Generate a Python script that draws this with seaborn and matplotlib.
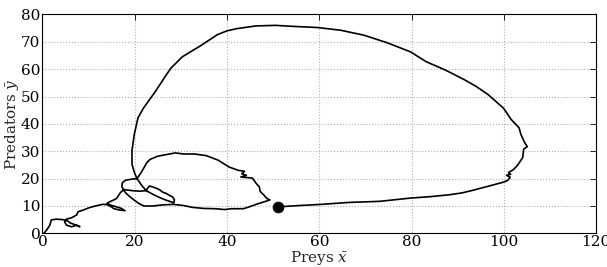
import numpy as np
import pandas as pd
import matplotlib
matplotlib.use("Agg")
import matplotlib.pyplot as plt
import seaborn as sns

# trayectoria (presas x, depredadores y)
preys = [51.1, 55, 60.5, 66.4, 73.1, 79.8, 84, 88.2, 91, 93.2, 96.6, 99.9, 100.8,
         101.4, 100.6, 101.5, 101, 102, 102.9, 104.1, 104.3, 105.1, 104.5, 103.7,
         103.3, 101.6, 99.9, 98.2, 96.6, 94, 91.5, 87.3, 83.2, 79.8, 74.8, 69.7,
         64.7, 59.7, 54.7, 50.5, 46.3, 42.1, 40, 37.9, 34.5, 30.3, 27.8, 26.6, 24.5,
         21.9, 20.7, 19.9, 19.4, 19.4, 19.9, 20.5,
         # pequeno lazo izquierdo y lazo derecho
         19.3, 18, 17.3, 17.2, 17.6, 19.5, 21, 22.4, 22.8, 23.2, 24, 24.8, 25.5, 26,
         26.8, 27.5, 28.2, 28.6, 28.5, 27, 25.5, 24, 22.5, 21.5, 20.5,
         # lazo mediano
         21.3, 22, 22.6, 23.3, 25, 27.5, 28.8, 30.5, 33, 35.5, 38, 40.5, 42.5, 43.8,
         43.2, 44.2, 43, 45.5, 46.3, 47, 47.2, 48, 48.6, 49.3, 48, 46.5, 44.5, 43.5,
         41, 39.5, 37.5, 35, 32.5, 30.5, 28.3, 26, 24, 22, 21, 20, 19, 18.2, 17.5,
         # cola hacia la extincion
         16.8, 16.1, 15.2, 14.5, 14, 14.8, 15.8, 17, 17.9, 16.8, 15.5, 14.8, 14, 13,
         12, 11, 10, 8.8, 7.7, 7.4, 6.3, 5.2, 4.8, 5.2, 6.3, 7.4, 8.1, 7, 6, 5.5,
         4.5, 3, 1.9, 1.6, 1.2, 0.9, 0.5, 0.3]
predators = [9.7, 10.1, 10.6, 11.3, 11.7, 12.9, 13.4, 14.1, 14.8, 15.7, 17.2, 18.7, 19.3,
             20.5, 21.2, 21.6, 22.2, 23.2, 24.7, 27.7, 30.8, 31.7, 33.2, 36.2,
             38.6, 41.6, 45.8, 48.3, 50.7, 53.7, 56.1, 59.7, 62.7, 66.3, 69.6, 72.4,
             74.2, 75.2, 75.6, 76, 75.8, 74.8, 74, 72.6, 68.8, 64.5, 60.3, 57.3, 51.9,
             45.8, 42.2, 36.2, 30.2, 25.3, 22.3, 20,
             19.8, 19.4, 18.5, 17, 16, 15.6, 15.4, 15.6, 16.5, 17.3, 16.9, 16.4, 15.8, 15.1,
             14.6, 13.9, 13.3, 12.3, 11.2, 12, 13, 14.2, 15.6, 17.5, 20,
             22, 24, 25.8, 27, 28.2, 29, 29.4, 29, 29, 28.4, 26.8, 24.2, 23, 22.7,
             21.8, 21.2, 20.6, 20.2, 18.3, 17, 15.3, 14, 12.8, 12.2, 11.5, 10.7, 9.5, 9,
             9, 8.7, 9, 9.1, 9.5, 10.2, 10.6, 10.4, 10, 10, 10.8, 12, 13.3, 14.5, 15.9,
             14.7, 12.8, 12, 11.5, 11, 10.3, 9.8, 9.2, 8.3, 8.5, 9, 9.8, 10.5, 10.6,
             10.2, 9.8, 9.3, 8.5, 7.9, 6.7, 5.7, 5.2, 4.2, 3, 2.4, 3, 2.4, 3.2, 3.8, 4.5,
             5, 5.2, 4.9, 3, 2, 1.2, 0.4, 0]
start_x = [51.1]
start_y = [9.8]

df = pd.DataFrame({'x': preys, 'y': predators})

sns.set_style("whitegrid")
plt.rcParams['font.family'] = ['DejaVu Serif']
plt.rcParams['mathtext.fontset'] = 'dejavuserif'

fig, ax = plt.subplots(figsize=(6.07, 2.67), dpi=100)
fig.subplots_adjust(left=0.07, right=0.982, top=0.946, bottom=0.126)

sns.lineplot(data=df, x='x', y='y', sort=False, estimator=None, color='black',
             linewidth=1.2, ax=ax)
sns.scatterplot(x=start_x, y=start_y, color='black', s=60, edgecolor='black', zorder=5, ax=ax)

ax.set_xlim(0, 120)
ax.set_ylim(0, 80)
ax.set_xticks(range(0, 121, 20))
ax.set_yticks(range(0, 81, 10))
ax.grid(True, linestyle=':', color='#b0b0b0', linewidth=0.8)
for s in ax.spines.values():
    s.set_color('black')
    s.set_linewidth(0.8)
ax.tick_params(direction='in', length=4, width=0.6, top=True, right=True,
               labelsize=11, pad=1.5, colors='black')
ax.set_xlabel(r'Preys $\bar{x}$', fontsize=11, labelpad=0)
ax.set_ylabel(r'Predators $\bar{y}$', fontsize=11, labelpad=0)

plt.savefig('out.png', dpi=100)
